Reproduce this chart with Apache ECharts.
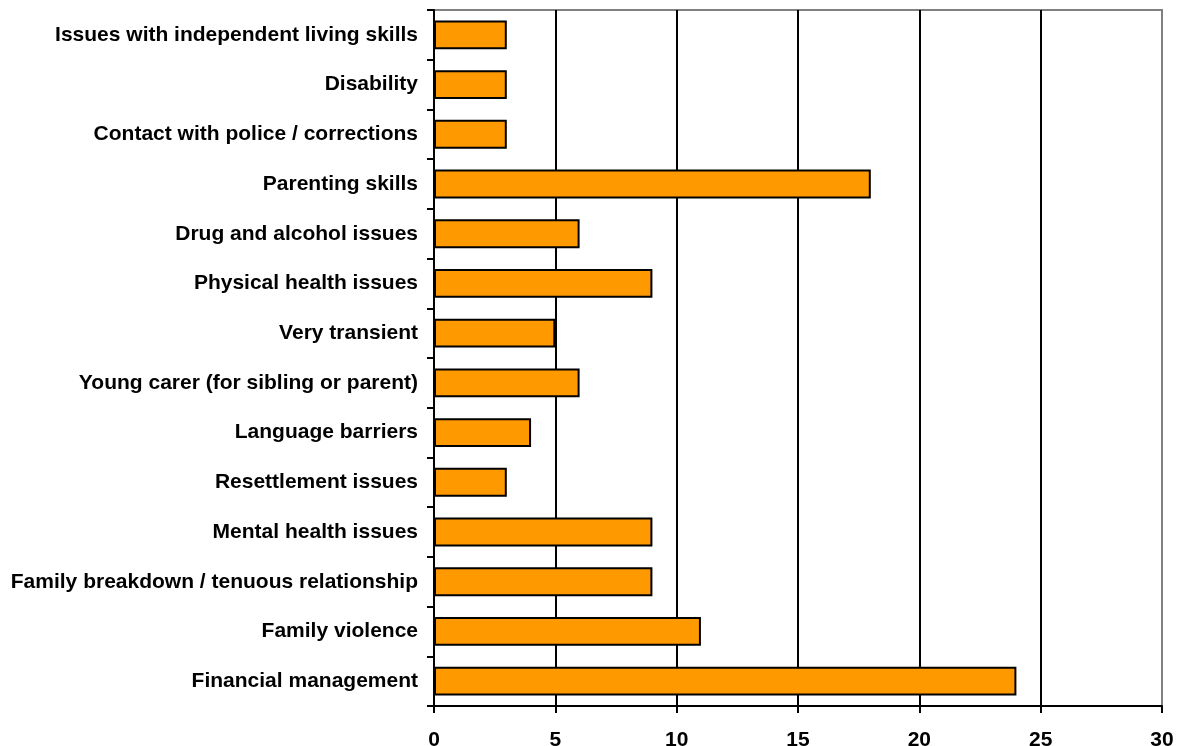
<!DOCTYPE html>
<html><head><meta charset="utf-8">
<script src="https://cdn.jsdelivr.net/npm/echarts@6/dist/echarts.min.js"></script>
<style>html,body{margin:0;padding:0;background:#fff}#c{width:1183px;height:746px}</style>
</head><body><div id="c"></div>
<script>
// bottom-to-top order
const categories = [
  'Financial management',
  'Family violence',
  'Family breakdown / tenuous relationship',
  'Mental health issues',
  'Resettlement issues',
  'Language barriers',
  'Young carer (for sibling or parent)',
  'Very transient',
  'Physical health issues',
  'Drug and alcohol issues',
  'Parenting skills',
  'Contact with police / corrections',
  'Disability',
  'Issues with independent living skills'
];
const values = [24, 11, 9, 9, 3, 4, 6, 5, 9, 6, 18, 3, 3, 3];
const xTicks = { min: 0, max: 30, interval: 5 };

const font = { fontFamily: 'Liberation Sans, Arial, sans-serif', fontWeight: 'bold', fontSize: 21, color: '#000' };
const chart = echarts.init(document.getElementById('c'), null, { renderer: 'canvas' });
chart.setOption({
  animation: false,
  grid: { left: 434, right: 21, top: 10, bottom: 40, containLabel: false, outerBoundsMode: 'none', show: true, borderColor: '#808080', borderWidth: 2, backgroundColor: 'transparent' },
  xAxis: {
    type: 'value', min: xTicks.min, max: xTicks.max, interval: xTicks.interval,
    axisLine: { show: true, lineStyle: { color: '#000', width: 2 } },
    axisTick: { show: true, length: 7, lineStyle: { color: '#000', width: 2 } },
    axisLabel: Object.assign({ margin: 24 }, font),
    splitLine: { show: true, showMinLine: false, showMaxLine: false, lineStyle: { color: '#000', width: 2 } }
  },
  yAxis: {
    type: 'category', data: categories,
    axisLine: { show: true, lineStyle: { color: '#000', width: 2 } },
    axisTick: { show: true, length: 7, lineStyle: { color: '#000', width: 2 } },
    axisLabel: Object.assign({ margin: 16 }, font),
    splitLine: { show: false }
  },
  series: [{
    type: 'bar', data: values, barWidth: '58%',
    itemStyle: { color: '#FF9900', borderColor: '#000', borderWidth: 2 }
  }]
});
</script></body></html>
